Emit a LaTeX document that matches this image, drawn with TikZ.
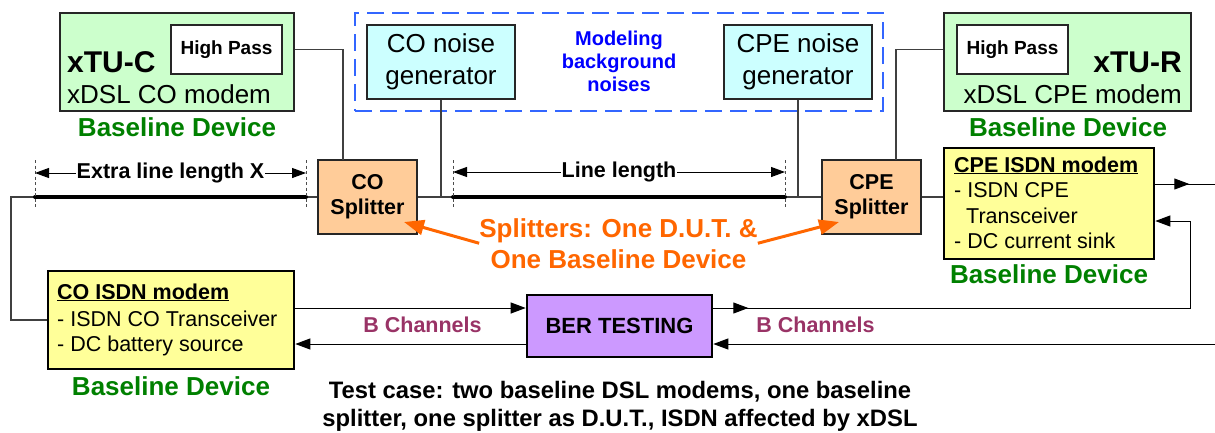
\documentclass[tikz,border=0pt]{standalone}
\usepackage{fontspec}
\setmainfont{Liberation Sans}
\usetikzlibrary{arrows.meta}
\definecolor{boxgreen}{HTML}{CCFFCC}
\definecolor{boxcyan}{HTML}{CCFFFF}
\definecolor{boxorange}{HTML}{FFCC99}
\definecolor{boxyellow}{HTML}{FFFF99}
\definecolor{boxpurple}{HTML}{CC99FF}
\definecolor{txtgreen}{HTML}{008000}
\definecolor{txtorange}{HTML}{FF6600}
\definecolor{txtblue}{HTML}{0000FF}
\definecolor{dashblue}{HTML}{3366FF}
\definecolor{chan}{HTML}{993366}
\definecolor{wire}{HTML}{404040}
\newcommand\fs[2]{\fontsize{#1}{#2}\selectfont}
\begin{document}
\begin{tikzpicture}[x=1pt,y=-1pt,
  box/.style={draw=black!85, line width=1.3pt, inner sep=0pt, align=center},
  modembox/.style={draw=black, line width=2.6pt, fill=boxyellow, inner sep=0pt},
  txt/.style={inner sep=0pt},
  base/.style={txt, font=\fs{26}{31}\bfseries, text=txtgreen, anchor=base},
  isdn/.style={txt, anchor=base west, font=\fs{21.5}{26}},
  wireline/.style={draw=wire, line width=1.2pt},
  thickline/.style={draw=black, line width=4pt, line cap=round},
  tickline/.style={draw=black!70, line width=0.7pt, dash pattern=on 3pt off 2.5pt},
  dim/.style={draw=black, line width=1pt, {Triangle[length=14pt,width=10pt]}-{Triangle[length=14pt,width=10pt]}},
  arr/.style={draw=black, line width=1pt, -{Triangle[length=15pt,width=11pt]}},
  orarr/.style={draw=txtorange, line width=3pt, -{Triangle[length=20pt,width=15pt]}}
]
\useasboundingbox (0,0) rectangle (1215,432);

% ---- xTU-C
\node[box, fill=boxgreen, minimum width=234, minimum height=98] (xtuc) at (177,62) {};
\node[box, fill=white, minimum width=111, minimum height=49, font=\fs{19}{23}\bfseries] (hpc) at (226.5,49.5) {High Pass};
\node[txt, anchor=base west, font=\fs{30}{36}\bfseries] (xtucname) at (67,72) {xTU-C};
\node[txt, anchor=base west, font=\fs{26}{31}] (xtucdesc) at (67,103) {xDSL CO modem};
\node[base] (bd1) at (177,136) {Baseline Device};

% ---- xTU-R
\node[box, fill=boxgreen, minimum width=247, minimum height=98] (xtur) at (1067.5,62) {};
\node[box, fill=white, minimum width=111, minimum height=49, font=\fs{19}{23}\bfseries] (hpr) at (1012.5,49.5) {High Pass};
\node[txt, anchor=base east, font=\fs{30}{36}\bfseries] (xturname) at (1182,72) {xTU-R};
\node[txt, anchor=base east, font=\fs{26}{31}] (xturdesc) at (1182,103) {xDSL CPE modem};
\node[base] (bd2) at (1068,136) {Baseline Device};

% ---- noise generators
\node[draw=dashblue, line width=2.5pt, dash pattern=on 17pt off 8pt, minimum width=528, minimum height=98, inner sep=0pt] (noisebox) at (619,62) {};
\node[box, fill=boxcyan, minimum width=148, minimum height=74, font=\fs{26}{32}] (cong) at (441,62) {CO noise\\generator};
\node[box, fill=boxcyan, minimum width=148, minimum height=74, font=\fs{26}{32}] (cpeng) at (798,62) {CPE noise\\generator};
\node[txt, align=center, text=txtblue, font=\fs{20}{23}\bfseries] (model) at (619,61) {Modeling\\background\\noises};

% ---- splitters
\node[box, fill=boxorange, minimum width=99, minimum height=74, font=\fs{21.5}{25}\bfseries] (cosp) at (367.5,197) {CO\\Splitter};
\node[box, fill=boxorange, minimum width=99, minimum height=74, font=\fs{21.5}{25}\bfseries] (cpesp) at (871.5,197) {CPE\\Splitter};

% ---- CPE ISDN modem
\node[modembox, minimum width=210, minimum height=111] (cpeisdn) at (1049,203.5) {};
\node[isdn, font=\fs{21.5}{26}\bfseries] (cpet) at (954,172) {\underline{CPE ISDN modem}};
\node[isdn] (cpe1) at (954,197) {- ISDN CPE};
\node[isdn] (cpe2) at (966,223) {Transceiver};
\node[isdn] (cpe3) at (954,248) {- DC current sink};
\node[base] (bd3) at (1049,283) {Baseline Device};

% ---- CO ISDN modem
\node[modembox, minimum width=246, minimum height=98] (coisdn) at (171,320) {};
\node[isdn, font=\fs{21.5}{26}\bfseries] (cot) at (57,299) {\underline{CO ISDN modem}};
\node[isdn] (co1) at (57,326) {- ISDN CO Transceiver};
\node[isdn] (co2) at (57,351) {- DC battery source};
\node[base] (bd4) at (171,395) {Baseline Device};

% ---- BER
\node[draw=black, line width=2.6pt, fill=boxpurple, minimum width=185, minimum height=62, inner sep=0pt, font=\fs{22}{26}\bfseries] (ber) at (619.5,326) {BER TESTING};

% ---- coordinates
\coordinate (cotap) at (343,160);
\coordinate (cpetap) at (896,160);
\coordinate (L0) at (11,197);
\coordinate (xl) at (35,197);
\coordinate (xr) at (306,197);
\coordinate (ll) at (453,197);
\coordinate (lr) at (785,197);
\coordinate (xla) at (35,173);
\coordinate (xra) at (306,173);
\coordinate (lla) at (453,172);
\coordinate (lra) at (785,172);
\coordinate (r1) at (1190,308);
\coordinate (r2) at (1190,221);
\coordinate (r3) at (1215,184);
\coordinate (r4) at (1215,344);
\coordinate (cotip) at (404,222);
\coordinate (cpetip) at (839,222);

% ---- wiring
\draw[wireline] (xtuc.east |- hpc.east) -| (cotap);
\draw[wireline] (xtur.west |- hpr.west) -| (cpetap);
\draw[wireline] (cong.south) -- (cong.south |- cosp.east);
\draw[wireline] (cpeng.south) -- (cpeng.south |- cpesp.west);
\draw[wireline] (coisdn.west) -| (L0) -- (cosp.west);
\draw[wireline] (cosp.east) -- (cpesp.west);
\draw[wireline] (cpesp.east) -- (cpeisdn.west |- cpesp.east);
\draw[thickline] (xl) -- (xr);
\draw[thickline] (ll) -- (lr);

% ---- dimension markers
\draw[tickline] (35,160) -- (35,208);
\draw[tickline] (306,160) -- (306,208);
\draw[tickline] (453,160) -- (453,208);
\draw[tickline] (785,160) -- (785,208);
\draw[dim] (xla) -- (xra) node[midway, fill=white, inner sep=1pt, font=\fs{21.5}{26}\bfseries] (xlab) {Extra line length X};
\draw[dim] (lla) -- (lra) node[midway, fill=white, inner sep=1pt, font=\fs{21.5}{26}\bfseries] (llab) {Line length};

% ---- splitter annotation
\node[txt, anchor=north, align=center, text=txtorange, font=\fs{26}{31}\bfseries] (spl) at (618.5,218) {Splitters: One D.U.T. \&\\One Baseline Device};
\draw[orarr] (spl.west) -- (cotip);
\draw[orarr] (spl.east) -- (cpetip);

% ---- B channels
\draw[arr] (coisdn.east |- r1) -- (ber.west |- r1);
\draw[arr] (ber.west |- r4) -- (coisdn.east |- r4);
\draw[arr] (ber.east |- r1) -- (r1) -- (r2) -- (cpeisdn.east |- r2);
\draw[arr] (ber.east |- r1) -- ++(35,0);
\draw[arr] (r4) -- (ber.east |- r4);
\draw[draw=black, line width=1pt] (cpeisdn.east |- r3) -- (r3);
\draw[arr] (cpeisdn.east |- r3) -- ++(34,0);
\node[txt, anchor=base, text=chan, font=\fs{21.5}{26}\bfseries] (bch1) at (422.5,332) {B Channels};
\node[txt, anchor=base, text=chan, font=\fs{21.5}{26}\bfseries] (bch2) at (815.5,332) {B Channels};

% ---- caption
\node[txt, anchor=north, align=center, font=\fs{23.8}{28}\bfseries] (caption) at (620,381) {Test case: two baseline DSL modems, one baseline\\splitter, one splitter as D.U.T., ISDN affected by xDSL};
\end{tikzpicture}
\end{document}
